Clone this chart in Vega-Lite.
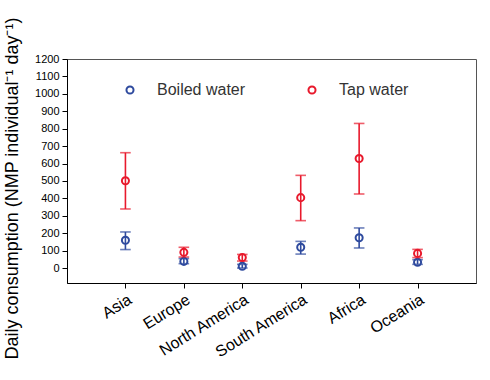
{
  "$schema": "https://vega.github.io/schema/vega-lite/v6.json",
  "width": 409,
  "height": 224,
  "autosize": "none",
  "padding": {"left": 67, "top": 59, "right": 14, "bottom": 97},
  "background": "white",
  "config": {
    "font": "Liberation Sans",
    "view": {"stroke": "#555", "strokeWidth": 1},
    "axisY": {
      "titleFontSize": 18,
      "titleFontWeight": "normal",
      "titleColor": "black",
      "titleX": -55,
      "titleY": 129,
      "titleAlign": "center",
      "titleBaseline": "middle",
      "titleAngle": -90,
      "format": "d",
      "labelOverlap": false,
      "labelFontSize": 11,
      "labelColor": "black",
      "labelPadding": 3,
      "tickSize": 5,
      "tickColor": "black",
      "domainColor": "black",
      "grid": false
    }
  },
  "data": {
    "values": [
      {"region": "Asia", "type": "Boiled water", "mean": 159, "lo": 106, "hi": 207},
      {"region": "Europe", "type": "Boiled water", "mean": 38, "lo": 25, "hi": 54},
      {"region": "North America", "type": "Boiled water", "mean": 10, "lo": 0, "hi": 21},
      {"region": "South America", "type": "Boiled water", "mean": 119, "lo": 80, "hi": 153},
      {"region": "Africa", "type": "Boiled water", "mean": 174, "lo": 115, "hi": 230},
      {"region": "Oceania", "type": "Boiled water", "mean": 33, "lo": 21, "hi": 48},
      {"region": "Asia", "type": "Tap water", "mean": 501, "lo": 339, "hi": 662},
      {"region": "Europe", "type": "Tap water", "mean": 90, "lo": 63, "hi": 119},
      {"region": "North America", "type": "Tap water", "mean": 60, "lo": 40, "hi": 78},
      {"region": "South America", "type": "Tap water", "mean": 404, "lo": 272, "hi": 532},
      {"region": "Africa", "type": "Tap water", "mean": 629, "lo": 425, "hi": 830},
      {"region": "Oceania", "type": "Tap water", "mean": 84, "lo": 60, "hi": 107}
    ]
  },
  "encoding": {
    "x": {
      "field": "region",
      "type": "nominal",
      "sort": ["Asia", "Europe", "North America", "South America", "Africa", "Oceania"],
      "scale": {"type": "point", "padding": 1},
      "axis": {
        "title": null,
        "labelAngle": -32,
        "labelAlign": "right",
        "labelBaseline": "top",
        "labelFontSize": 16,
        "labelColor": "black",
        "labelPadding": 3,
        "tickSize": 5,
        "tickColor": "black",
        "domainColor": "black",
        "grid": false
      }
    }
  },
  "layer": [
    {
      "mark": {"type": "point", "shape": "circle", "filled": false, "size": 50, "strokeWidth": 2, "opacity": 1},
      "encoding": {
        "y": {
          "field": "mean",
          "type": "quantitative",
          "scale": {"domain": [-86, 1200], "nice": false, "zero": false},
          "axis": {
            "title": "Daily consumption (NMP individual⁻¹ day⁻¹)",
            "values": [0, 100, 200, 300, 400, 500, 600, 700, 800, 900, 1000, 1100, 1200]
          }
        },
        "color": {
          "field": "type",
          "type": "nominal",
          "scale": {"domain": ["Boiled water", "Tap water"], "range": ["#2E4A9E", "#E8192C"]},
          "legend": {
            "title": null,
            "orient": "none",
            "legendX": 55,
            "legendY": 23,
            "direction": "horizontal",
            "symbolType": "circle",
            "symbolSize": 50,
            "symbolStrokeWidth": 2,
            "symbolFillColor": "transparent",
            "labelFontSize": 16,
            "labelColor": "#333",
            "labelOffset": 19,
            "columnPadding": 58,
            "padding": 0
          }
        }
      }
    },
    {
      "mark": {"type": "rule", "strokeWidth": 1.6},
      "encoding": {
        "y": {
          "field": "lo",
          "type": "quantitative",
          "axis": {
            "title": "Daily consumption (NMP individual⁻¹ day⁻¹)",
            "values": [0, 100, 200, 300, 400, 500, 600, 700, 800, 900, 1000, 1100, 1200]
          }
        },
        "y2": {"field": "hi"},
        "color": {"field": "type", "type": "nominal"}
      }
    },
    {
      "mark": {"type": "tick", "filled": false, "thickness": 0.01, "strokeWidth": 1.6, "size": 9},
      "encoding": {
        "y": {
          "field": "lo",
          "type": "quantitative",
          "axis": {
            "title": "Daily consumption (NMP individual⁻¹ day⁻¹)",
            "values": [0, 100, 200, 300, 400, 500, 600, 700, 800, 900, 1000, 1100, 1200]
          }
        },
        "color": {"field": "type", "type": "nominal"}
      }
    },
    {
      "mark": {"type": "tick", "filled": false, "thickness": 0.01, "strokeWidth": 1.6, "size": 9},
      "encoding": {
        "y": {
          "field": "hi",
          "type": "quantitative",
          "axis": {
            "title": "Daily consumption (NMP individual⁻¹ day⁻¹)",
            "values": [0, 100, 200, 300, 400, 500, 600, 700, 800, 900, 1000, 1100, 1200]
          }
        },
        "color": {"field": "type", "type": "nominal"}
      }
    }
  ]
}
